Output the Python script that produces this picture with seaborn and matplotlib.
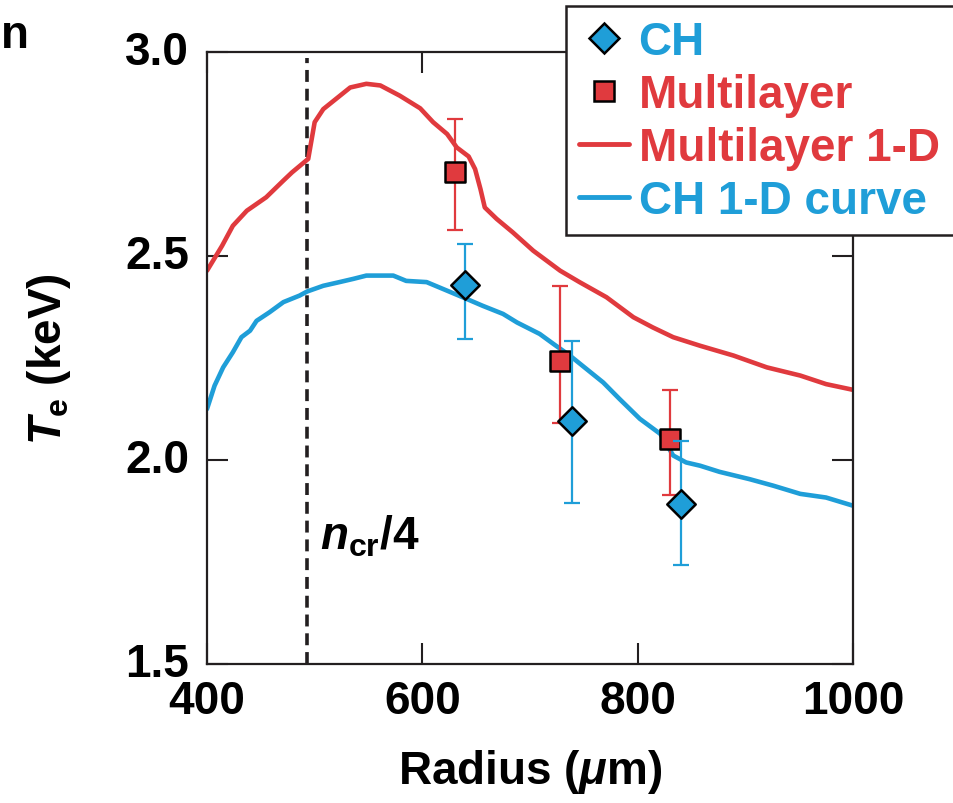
import matplotlib
matplotlib.use("Agg")
import matplotlib.pyplot as plt
from matplotlib.lines import Line2D
from matplotlib.patches import Rectangle
import numpy as np
import pandas as pd
import seaborn as sns

# 1-D simulated electron temperature profiles (radius in um, Te in keV)
ml_curve_r = [400, 414, 424, 437, 455, 471, 479, 494, 500, 508, 533, 548, 561, 579,
              598, 610, 623, 632, 643, 649, 654, 658, 669, 684, 703, 728, 746, 771,
              796, 814, 833, 858, 889, 920, 951, 975, 1000]
ml_curve_te = [2.464, 2.525, 2.574, 2.611, 2.644, 2.685, 2.705, 2.738, 2.828, 2.860,
               2.913, 2.922, 2.918, 2.893, 2.862, 2.828, 2.799, 2.766, 2.744, 2.713,
               2.664, 2.619, 2.591, 2.558, 2.513, 2.464, 2.436, 2.399, 2.350, 2.325,
               2.301, 2.280, 2.256, 2.227, 2.207, 2.186, 2.172]

ch_curve_r = [400, 407, 415, 424, 432, 440, 446, 458, 471, 486, 493, 508, 523, 536,
              548, 573, 585, 604, 623, 641, 656, 675, 688, 709, 722, 737, 768, 783,
              802, 821, 833, 845, 858, 876, 904, 926, 951, 975, 1000]
ch_curve_te = [2.125, 2.182, 2.227, 2.264, 2.301, 2.317, 2.341, 2.362, 2.387, 2.403,
               2.413, 2.427, 2.436, 2.444, 2.452, 2.452, 2.439, 2.436, 2.415, 2.395,
               2.378, 2.358, 2.337, 2.309, 2.284, 2.256, 2.190, 2.150, 2.101, 2.064,
               2.011, 1.994, 1.986, 1.971, 1.953, 1.937, 1.917, 1.908, 1.888]

# Measured temperatures with asymmetric uncertainties
ch_r = [640, 739, 840]
ch_te = [2.43, 2.095, 1.892]
ch_err_lo = [0.133, 0.201, 0.149]
ch_err_hi = [0.099, 0.197, 0.155]

ml_r = [630, 728, 830]
ml_te = [2.707, 2.242, 2.051]
ml_err_lo = [0.143, 0.151, 0.137]
ml_err_hi = [0.130, 0.185, 0.120]

ncr_quarter_r = 493

x_ticks = [400, 600, 800, 1000]
y_ticks = [1.5, 2.0, 2.5, 3.0]
y_tick_labels = ["1.5", "2.0", "2.5", "3.0"]
legend_labels = ["CH", "Multilayer", "Multilayer 1-D", "CH 1-D curve"]

RED = "#E03A3E"
BLUE = "#1F9ED8"
INK = "#231F20"

sns.set_theme(style="ticks")
plt.rcParams["font.family"] = ["Liberation Sans", "DejaVu Sans"]
plt.rcParams["font.weight"] = "bold"
plt.rcParams["mathtext.fontset"] = "custom"
plt.rcParams["mathtext.rm"] = "Liberation Sans:bold"
plt.rcParams["mathtext.it"] = "Liberation Sans:bold:italic"
plt.rcParams["mathtext.bf"] = "Liberation Sans:bold"

FS = 33

fig = plt.figure(figsize=(9.54, 8.04), dpi=100)
fig.patch.set_facecolor("white")
ax = fig.add_axes([207 / 954, 1 - 665 / 804, 646 / 954, 612 / 804])
ax.set_facecolor("white")

ml_df = pd.DataFrame({"r": ml_curve_r, "te": ml_curve_te})
ch_df = pd.DataFrame({"r": ch_curve_r, "te": ch_curve_te})
sns.lineplot(data=ml_df, x="r", y="te", color=RED, lw=3.3, ax=ax, zorder=2)
sns.lineplot(data=ch_df, x="r", y="te", color=BLUE, lw=3.3, ax=ax, zorder=2)

ax.axvline(ncr_quarter_r, ymax=0.99, color=INK, lw=2.6, dashes=(3.3, 1.9), zorder=1)

ax.errorbar(ml_r, ml_te, yerr=[ml_err_lo, ml_err_hi], fmt="none", ecolor=RED,
            elinewidth=1.6, capsize=6, capthick=1.6, zorder=3)
sns.scatterplot(x=ml_r, y=ml_te, marker="s", s=200, color=RED, edgecolor="black",
                linewidth=1.8, ax=ax, zorder=4)
ax.errorbar(ch_r, ch_te, yerr=[ch_err_lo, ch_err_hi], fmt="none", ecolor=BLUE,
            elinewidth=1.6, capsize=6, capthick=1.6, zorder=5)
sns.scatterplot(x=ch_r, y=ch_te, marker="D", s=210, color=BLUE, edgecolor="black",
                linewidth=1.8, ax=ax, zorder=6)

ax.text(505, 1.782, r"$n_{\mathrm{cr}}$/4", fontsize=FS, fontweight="bold",
        ha="left", va="baseline", color="black")

ax.set_xlim(400, 1000)
ax.set_ylim(1.5, 3.0)
ax.set_xticks(x_ticks)
ax.set_xticklabels([str(v) for v in x_ticks])
ax.set_yticks(y_ticks)
ax.set_yticklabels(y_tick_labels)
ax.tick_params(direction="in", length=15, width=1.5, color=INK, top=True, right=True,
               labelsize=FS, labelcolor="black")
ax.tick_params(axis="y", pad=13)
ax.tick_params(axis="x", pad=11)
for lbl in ax.get_yticklabels():
    lbl.set_verticalalignment("center")
for sp in ax.spines.values():
    sp.set_visible(True)
    sp.set_color(INK)
    sp.set_linewidth(1.6)

ax.set_xlabel(r"Radius ($\mu$m)", fontsize=FS, fontweight="bold", labelpad=17,
              color="black")
ax.set_ylabel(r"$T_{\mathrm{e}}$ (keV)", fontsize=FS, fontweight="bold", color="black")
ax.yaxis.set_label_coords(-0.207, 0.5)

# legend: frame drawn as its own patch so it can run past the right edge
fig.patches.append(Rectangle((566 / 954, 1 - 236 / 804), 420 / 954, 229 / 804,
                             transform=fig.transFigure, facecolor="white",
                             edgecolor=INK, lw=1.8, zorder=10))
handles = [
    Line2D([], [], ls="none", marker="D", ms=15, mfc=BLUE, mec="black", mew=1.8),
    Line2D([], [], ls="none", marker="s", ms=15, mfc=RED, mec="black", mew=1.8),
    Line2D([], [], color=RED, lw=3.5),
    Line2D([], [], color=BLUE, lw=3.5),
]
leg = fig.legend(handles, legend_labels, loc="upper left",
                 bbox_to_anchor=(579 / 954, 1 - 21 / 804), bbox_transform=fig.transFigure,
                 frameon=False, borderpad=0, borderaxespad=0, labelspacing=0.2,
                 handlelength=1.1, handletextpad=0.2,
                 prop={"size": FS, "weight": "bold"})
leg.set_zorder(11)
for t, c in zip(leg.get_texts(), [BLUE, RED, RED, BLUE]):
    t.set_color(c)

fig.text(1 / 954, 1 - 48 / 804, "n", fontsize=FS, fontweight="bold",
         ha="left", va="baseline", color="black")

fig.savefig("out.png", dpi=100)
